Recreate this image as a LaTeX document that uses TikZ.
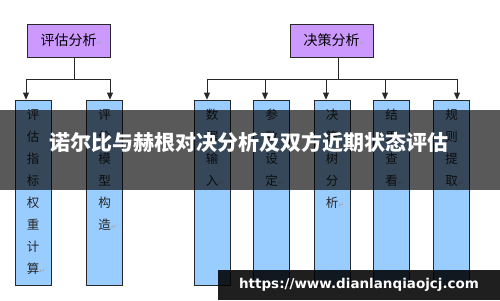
\documentclass[tikz,border=0pt]{standalone}
\usepackage{fontspec}
\setmainfont{Noto Sans CJK SC}
\newfontfamily\dv{DejaVu Sans}
\usetikzlibrary{arrows.meta}
\definecolor{purp}{RGB}{204,153,255}
\definecolor{lblue}{RGB}{153,204,255}
\definecolor{lin}{RGB}{40,40,40}
\newcommand\ret{\rlap{\dv\color{black!35}\fontsize{7}{7}\selectfont ↵}}
\tikzset{
  pbox/.style={draw=lin, line width=0.8pt, fill=purp, minimum width=83pt, minimum height=33pt, inner sep=0pt, font=\fontsize{14}{14}\selectfont},
  bbox/.style={draw=lin, line width=0.8pt, fill=lblue, minimum width=36pt, minimum height=185pt, inner sep=0pt},
  vtext/.style={anchor=north, inner sep=0pt, align=center, font=\fontsize{12.5}{22}\selectfont, text=black!85},
  conn/.style={draw=lin, line width=0.8pt},
  arr/.style={conn, -{Triangle[width=6pt,length=7pt]}}
}
\begin{document}
\begin{tikzpicture}[x=1pt,y=-1pt]
\useasboundingbox (0,0) rectangle (500,300);
\fill[white] (0,0) rectangle (500,300);
% top boxes
\node[pbox] (p1) at (68.5,40.5) {评估分析\ret};
\node[pbox] (p2) at (331.5,40.5) {决策分析\ret};
% blue boxes
\node[bbox] (b1) at (33,192.5) {};
\node[bbox] (b2) at (104.5,192.5) {};
\node[bbox] (b3) at (212,192.5) {};
\node[bbox] (b4) at (271.5,192.5) {};
\node[bbox] (b5) at (332,192.5) {};
\node[bbox] (b6) at (391.5,192.5) {};
\node[bbox] (b7) at (451.5,192.5) {};
\node[vtext] (t1) at (b1.center |- 0,109) {评\\估\\指\\标\\权\\重\\计\\算\ret};
\node[vtext] (t2) at (b2.center |- 0,109) {评\\价\\模\\型\\构\\造\ret};
\node[vtext] (t3) at (b3.center |- 0,109) {数\\据\\输\\入\ret};
\node[vtext] (t4) at (b4.center |- 0,109) {参\\数\\设\\定\ret};
\node[vtext] (t5) at (b5.center |- 0,109) {决\\策\\树\\分\\析\ret};
\node[vtext] (t6) at (b6.center |- 0,109) {结\\果\\查\\看\ret};
\node[vtext] (t7) at (b7.center |- 0,109) {规\\则\\提\\取\ret};
% connectors left
\coordinate (s1) at (74,79);
\coordinate (l1) at (26,79);
\coordinate (r1) at (110,79);
\draw[conn] (p1.south -| s1) -- (s1);
\draw[conn] (l1) -- (r1);
\draw[arr] (l1) -- (l1 |- b1.north);
\draw[arr] (r1) -- (r1 |- b2.north);
% connectors right
\coordinate (s2) at (338,79);
\coordinate (a3) at (207,79);
\coordinate (a4) at (265,79);
\coordinate (a5) at (326,79);
\coordinate (a6) at (385,79);
\coordinate (a7) at (457,79);
\draw[conn] (p2.south -| s2) -- (s2);
\draw[conn] (a3) -- (a7);
\draw[arr] (a3) -- (a3 |- b3.north);
\draw[arr] (a4) -- (a4 |- b4.north);
\draw[arr] (a5) -- (a5 |- b5.north);
\draw[arr] (a6) -- (a6 |- b6.north);
\draw[arr] (a7) -- (a7 |- b7.north);
% banner
\fill[black, fill opacity=0.65] (0,110) rectangle (500,190);
\node[text=white, font=\fontsize{21}{21}\selectfont\bfseries, inner sep=0pt] (title) at (249,142) {诺尔比与赫根对决分析及双方近期状态评估};
% url band
\fill[black, fill opacity=0.88] (218,270) rectangle (500,300);
\node[text=white, font=\dv\fontsize{13.5}{13.5}\selectfont\bfseries, inner sep=0pt] (url) at (359,285) {https://www.dianlanqiaojcj.com};
\end{tikzpicture}
\end{document}
